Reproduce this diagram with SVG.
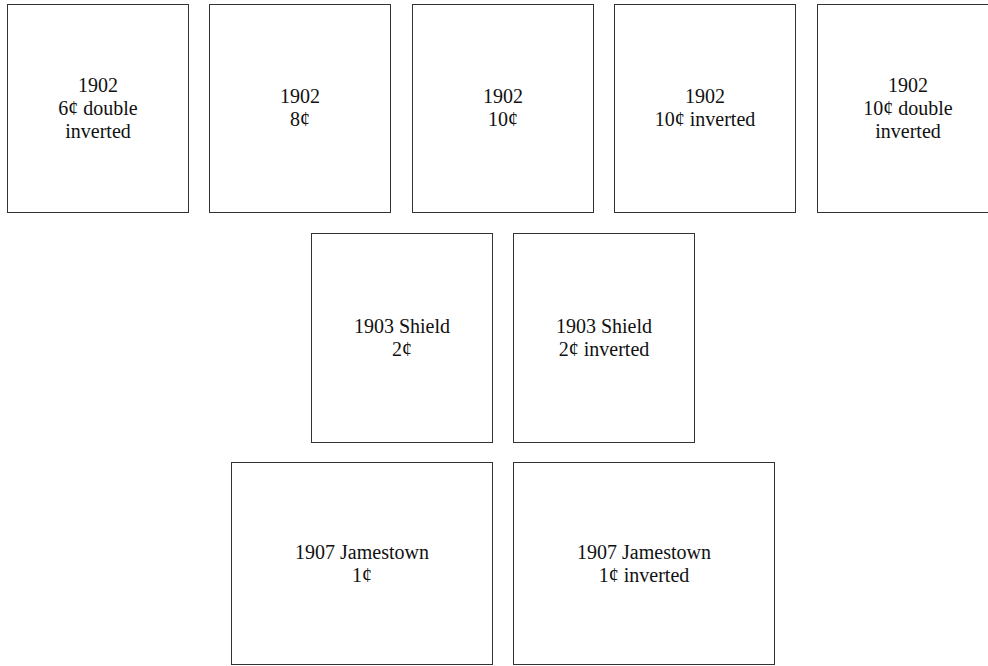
<svg xmlns="http://www.w3.org/2000/svg" width="988" height="666" viewBox="0 0 988 666">
<style>
.box{fill:#fff;stroke:#333;stroke-width:1}
.t{font-family:"Liberation Serif","Times New Roman",serif;font-size:20px;fill:#111;text-anchor:middle}
</style>
<rect width="988" height="666" fill="#fff"/>
<g id="n1"><rect class="box" x="7.5" y="4.5" width="181" height="208"/><text class="t" x="98" y="92">1902</text><text class="t" x="98" y="115">6¢ double</text><text class="t" x="98" y="138">inverted</text></g>
<g id="n2"><rect class="box" x="209.5" y="4.5" width="181" height="208"/><text class="t" x="300" y="103">1902</text><text class="t" x="300" y="126">8¢</text></g>
<g id="n3"><rect class="box" x="412.5" y="4.5" width="181" height="208"/><text class="t" x="503" y="103">1902</text><text class="t" x="503" y="126">10¢</text></g>
<g id="n4"><rect class="box" x="614.5" y="4.5" width="181" height="208"/><text class="t" x="705" y="103">1902</text><text class="t" x="705" y="126">10¢ inverted</text></g>
<g id="n5"><rect class="box" x="817.5" y="4.5" width="181" height="208"/><text class="t" x="908" y="92">1902</text><text class="t" x="908" y="115">10¢ double</text><text class="t" x="908" y="138">inverted</text></g>
<g id="n6"><rect class="box" x="311.5" y="233.5" width="181" height="209"/><text class="t" x="402" y="333">1903 Shield</text><text class="t" x="402" y="356">2¢</text></g>
<g id="n7"><rect class="box" x="513.5" y="233.5" width="181" height="209"/><text class="t" x="604" y="333">1903 Shield</text><text class="t" x="604" y="356">2¢ inverted</text></g>
<g id="n8"><rect class="box" x="231.5" y="462.5" width="261" height="202"/><text class="t" x="362" y="559">1907 Jamestown</text><text class="t" x="362" y="582">1¢</text></g>
<g id="n9"><rect class="box" x="513.5" y="462.5" width="261" height="202"/><text class="t" x="644" y="559">1907 Jamestown</text><text class="t" x="644" y="582">1¢ inverted</text></g>
<g id="connectors"></g>
</svg>
